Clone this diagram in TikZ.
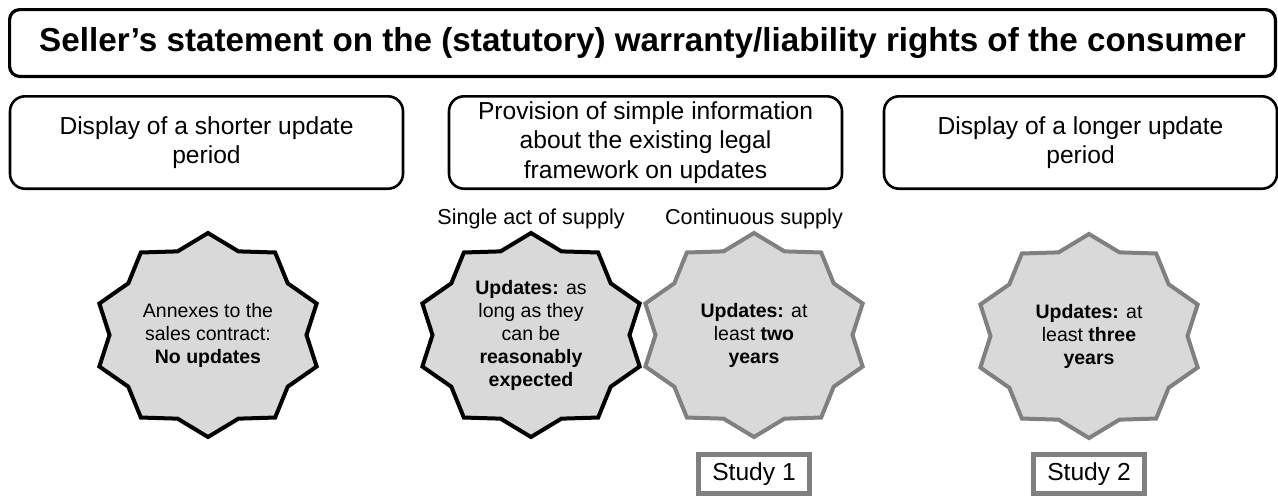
\documentclass[tikz,border=0pt]{standalone}
\usepackage{fontspec}
\setmainfont{Liberation Sans}
\usetikzlibrary{positioning, shapes.geometric}
\definecolor{burstfill}{HTML}{D9D9D9}
\definecolor{burstgray}{HTML}{808080}

\begin{document}
\begin{tikzpicture}[x=0.5pt,y=-0.5pt,on grid,
every node/.style={inner sep=0pt,outer sep=0pt},
titlebox/.style={draw,line width=1.6pt,rounded corners=5pt,minimum width=632.9pt,minimum height=33.4pt,font=\fontsize{16.6}{20}\selectfont\bfseries},
optionbox/.style={draw,line width=1.3pt,rounded corners=7.5pt,minimum width=196.5pt,minimum height=46.2pt,align=center,font=\fontsize{12.3}{14.7}\selectfont},
burst/.style={star,star points=10,star point ratio=1.16,minimum size=102pt,fill=burstfill,line width=2pt,xscale=1.12,transform shape},
bursttext/.style={align=center,font=\fontsize{9.75}{11.5}\selectfont},
supply/.style={font=\fontsize{10.8}{13}\selectfont},
studybox/.style={draw=burstgray,line width=2.2pt,minimum width=55.5pt,minimum height=19.5pt,font=\fontsize{12.3}{14}\selectfont}]
\useasboundingbox (0,0) rectangle (1278,495);
\node[titlebox] (T) at (642.5,43) {Seller’s statement on the (statutory) warranty/liability rights of the consumer};
\node[optionbox] (O1) at (206.5,142.5) {Display of a shorter update\\period};
\node[optionbox] (O2) at (645.5,142.5) {Provision of simple information\\about the existing legal\\framework on updates};
\node[optionbox] (O3) at (1080.5,142.5) {Display of a longer update\\period};
\node[burst,draw=black] (B1) at (208,335) {};
\node[burst,draw=black] (B2) at (531,335) {};
\node[burst,draw=burstgray] (B3) at (754,335) {};
\node[burst,draw=burstgray] (B4) at (1089,336) {};
\node[bursttext] (U1) at (B1) {Annexes to the\\sales contract:\\\textbf{No updates}};
\node[bursttext] (U2) at (B2) {\textbf{Updates:} as\\long as they\\can be\\\textbf{reasonably}\\\textbf{expected}};
\node[bursttext] (U3) at (B3) {\textbf{Updates:} at\\least \textbf{two}\\\textbf{years}};
\node[bursttext] (U4) at (B4) {\textbf{Updates:} at\\least \textbf{three}\\\textbf{years}};
\node[supply] (S1) [above=58pt of B2] {Single act of supply};
\node[supply] (S2) [above=58pt of B3] {Continuous supply};
\node[studybox] (R1) [below=69.5pt of B3] {Study 1};
\node[studybox] (R2) [below=69pt of B4] {Study 2};
\end{tikzpicture}
\end{document}
